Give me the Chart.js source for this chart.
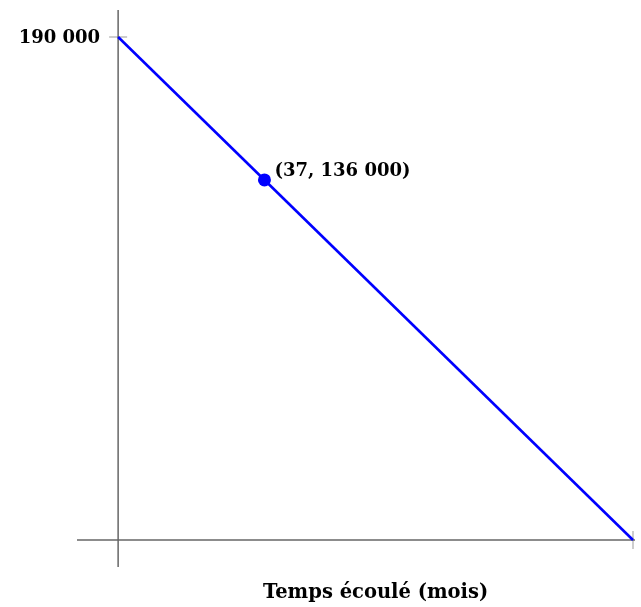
<!DOCTYPE html>
<html>
<head>
<meta charset="utf-8">
<script src="https://cdn.jsdelivr.net/npm/chart.js@4/dist/chart.umd.min.js"></script>
<style>
  html, body { margin: 0; padding: 0; background: #fff; }
  #wrap { width: 641px; height: 607px; }
</style>
</head>
<body>
<div id="wrap"><canvas id="c" width="641" height="607"></canvas></div>
<script>
// Remaining value over time (months)
const lineMonths = [0, 130.2];
const lineValues = [190000, 0];
const pointMonths = [37];
const pointValues = [136000];
const yTickValues = [190000];
const yTickLabels = ['190 000'];
const xTickValues = [130.2];
const pointLabel = '(37, 136 000)';
const xTitle = 'Temps écoulé (mois)';

const FONT = 'bold 18px "DejaVu Serif", "Liberation Serif", serif';
const TITLE_FONT = 'bold 19.5px "DejaVu Serif", "Liberation Serif", serif';

const axesPlugin = {
  id: 'axes',
  beforeDatasetsDraw(chart) {
    const ctx = chart.ctx;
    const x = chart.scales.x, y = chart.scales.y;
    const x0 = x.getPixelForValue(0), y0 = y.getPixelForValue(0);
    const a = chart.chartArea;
    ctx.save();
    // tick marks
    ctx.strokeStyle = '#b8b8b8';
    ctx.lineWidth = 1.4;
    yTickValues.forEach(v => {
      const py = y.getPixelForValue(v);
      ctx.beginPath(); ctx.moveTo(x0 - 9, py); ctx.lineTo(x0 + 9, py); ctx.stroke();
    });
    xTickValues.forEach(v => {
      const px = x.getPixelForValue(v);
      ctx.beginPath(); ctx.moveTo(px, y0 - 9); ctx.lineTo(px, y0 + 9); ctx.stroke();
    });
    // axis lines
    ctx.strokeStyle = '#666666';
    ctx.lineWidth = 1.5;
    ctx.beginPath(); ctx.moveTo(a.left, y0); ctx.lineTo(a.right + 2, y0); ctx.stroke();
    ctx.beginPath(); ctx.moveTo(x0, a.top); ctx.lineTo(x0, a.bottom); ctx.stroke();
    // tick labels
    ctx.fillStyle = '#000';
    ctx.font = FONT;
    ctx.textAlign = 'right';
    ctx.textBaseline = 'middle';
    yTickValues.forEach((v, i) => {
      ctx.fillText(yTickLabels[i], x0 - 18, y.getPixelForValue(v) + 1);
    });
    // x title centred on the positive half of the axis
    ctx.font = TITLE_FONT;
    ctx.textAlign = 'center';
    ctx.fillText(xTitle, (x0 + x.getPixelForValue(xTickValues[0])) / 2, 593);
    ctx.restore();
  },
  afterDatasetsDraw(chart) {
    const ctx = chart.ctx;
    const x = chart.scales.x, y = chart.scales.y;
    ctx.save();
    ctx.fillStyle = '#000';
    ctx.font = FONT;
    ctx.textAlign = 'left';
    ctx.textBaseline = 'middle';
    ctx.fillText(pointLabel, x.getPixelForValue(pointMonths[0]) + 10, y.getPixelForValue(pointValues[0]) - 9);
    ctx.restore();
  }
};

new Chart(document.getElementById('c'), {
  type: 'scatter',
  data: {
    datasets: [
      {
        type: 'line',
        data: lineMonths.map((m, i) => ({ x: m, y: lineValues[i] })),
        borderColor: '#0000ff',
        borderWidth: 2.6,
        pointRadius: 0,
        fill: false,
        tension: 0,
        clip: false
      },
      {
        data: pointMonths.map((m, i) => ({ x: m, y: pointValues[i] })),
        backgroundColor: '#0000ff',
        borderColor: '#0000ff',
        pointRadius: 6.5,
        borderWidth: 0
      }
    ]
  },
  options: {
    responsive: false,
    animation: false,
    events: [],
    layout: { padding: { left: 77, right: 8, top: 10, bottom: 40 } },
    plugins: { legend: { display: false }, tooltip: { enabled: false } },
    scales: {
      x: { type: 'linear', min: -10.4, max: 130.2, display: false },
      y: { type: 'linear', min: -10200, max: 200200, display: false }
    }
  },
  plugins: [axesPlugin]
});
</script>
</body>
</html>
